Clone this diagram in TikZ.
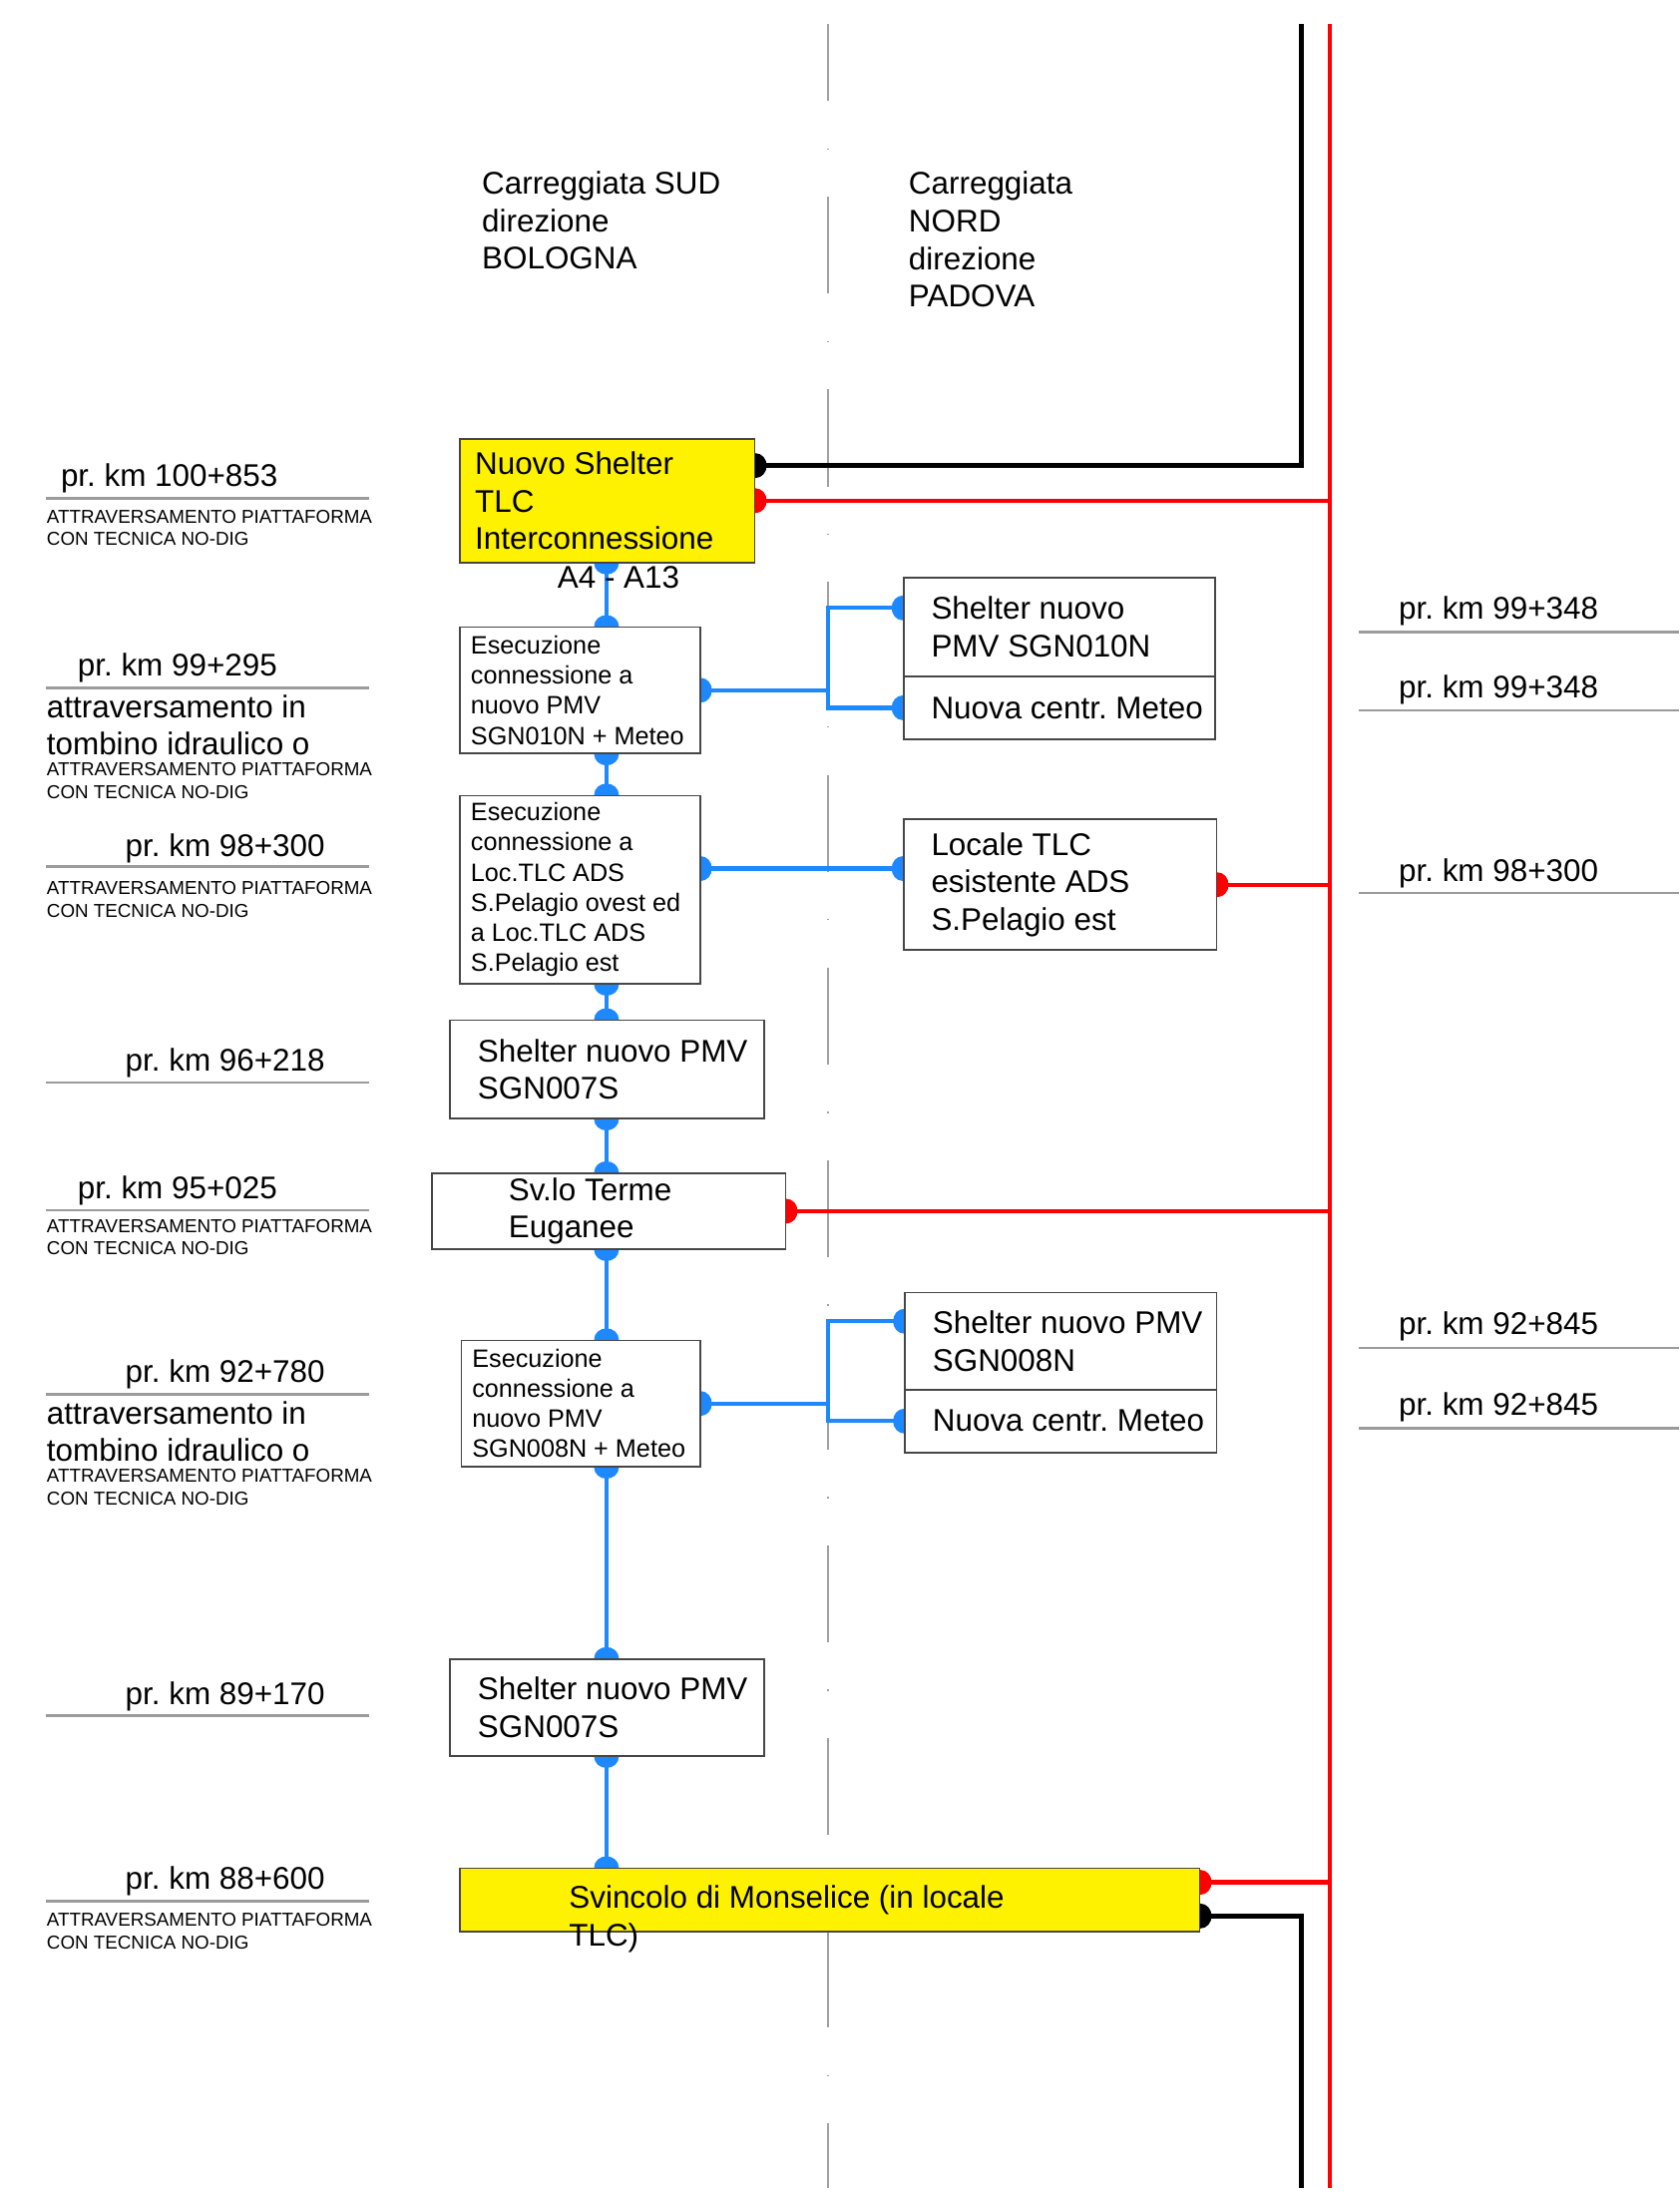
\documentclass[tikz,border=0pt]{standalone}
\usepackage{fontspec}
\setmainfont{Liberation Sans}
\frenchspacing
\usetikzlibrary{positioning,arrows.meta,backgrounds}
\definecolor{fibrablue}{RGB}{30,136,255}
\definecolor{boxgray}{RGB}{70,70,70}
\definecolor{pkgray}{RGB}{155,155,155}
\definecolor{assegray}{RGB}{160,160,160}

\tikzset{
	box/.style={draw=boxgray,line width=0.7pt,fill=white,anchor=north west,inner sep=0pt},
	ybox/.style={box,fill=yellow},
	txt/.style={inner sep=0pt,align=left,anchor=west},
	txtbig/.style={font=\fontsize{12.7}{15.3}\selectfont},
	txtmid/.style={font=\fontsize{10.2}{12.2}\selectfont},
	txtsmall/.style={font=\fontsize{7.6}{9.1}\selectfont},
	fibra/.style={draw=fibrablue,line width=1.7pt},
	rosso/.style={draw=red,line width=1.7pt},
	nero/.style={draw=black,line width=1.9pt},
	asse/.style={draw=assegray,line width=0.8pt,dash pattern=on 39.3pt off 19.1pt on 0.6pt off 19.1pt,dash phase=8pt},
	pk/.style={draw=pkgray,line width=1.1pt},
	dotstart/.style={arrows={Circle[length=9pt,width=10pt]-},shorten <=-4.5pt},
	dotend/.style={arrows={-Circle[length=9pt,width=10pt]},shorten >=-4.5pt},
	dotboth/.style={arrows={Circle[length=9pt,width=10pt]-Circle[length=9pt,width=10pt]},shorten <=-4.5pt,shorten >=-4.5pt}
}

\begin{document}
\begin{tikzpicture}[x=0.02cm,y=-0.02cm]
		\useasboundingbox (0,0) rectangle (1196.6,1567.6);
		% fixed points of the long lines
		\coordinate (axistop) at (590,17);
		\coordinate (axisbot) at (590,1558);
		\coordinate (redtop) at (947,17);
		\coordinate (redbot) at (947,1558);
		\coordinate (blacktop) at (927,17);
		\coordinate (blackbot) at (927,1558);
		\coordinate (spine) at (432,0);
		% carriageway headings
		\node[txt,txtbig] (sud) at (343,157) {Carreggiata SUD\\direzione\\BOLOGNA};
		\node[txt,txtbig] (nord) at (647,170.5) {Carreggiata\\NORD\\direzione\\PADOVA};
		% boxes on the south carriageway
		\node[ybox,minimum width=4.2cm,minimum height=1.76cm] (tlc) at (327,312) {};
		\node[txt,txtbig,right=0.22cm of tlc.west] (tlctxt) {Nuovo Shelter\\TLC\\Interconnessione};
		\node[txt,txtbig,anchor=center] (a4a13) at ([xshift=0.16cm,yshift=-0.2cm]tlc.south) {A4 - A13};
		\node[box,minimum width=3.42cm,minimum height=1.8cm] (exec1) at (327,446) {};
		\node[txt,txtmid,right=0.16cm of exec1.west] (exec1txt) {Esecuzione\\connessione a\\nuovo PMV\\SGN010N + Meteo};
		\node[box,minimum width=3.42cm,minimum height=2.68cm] (exec2) at (327,566) {};
		\node[txt,txtmid,right=0.16cm of exec2.west] (exec2txt) {Esecuzione\\connessione a\\Loc.TLC ADS\\S.Pelagio ovest ed\\a Loc.TLC ADS\\S.Pelagio est};
		\node[box,minimum width=4.48cm,minimum height=1.4cm] (pmv7a) at (320,726) {};
		\node[txt,txtbig,right=0.4cm of pmv7a.west] (pmv7atxt) {Shelter nuovo PMV\\SGN007S};
		\node[box,minimum width=5.04cm,minimum height=1.08cm] (terme) at (307,835) {};
		\node[txt,txtbig,right=1.1cm of terme.west] (termetxt) {Sv.lo Terme\\Euganee};
		\node[box,minimum width=3.4cm,minimum height=1.8cm] (exec3) at (328,954) {};
		\node[txt,txtmid,right=0.16cm of exec3.west] (exec3txt) {Esecuzione\\connessione a\\nuovo PMV\\SGN008N + Meteo};
		\node[box,minimum width=4.48cm,minimum height=1.38cm] (pmv7b) at (320,1181) {};
		\node[txt,txtbig,right=0.4cm of pmv7b.west] (pmv7btxt) {Shelter nuovo PMV\\SGN007S};
		\node[ybox,minimum width=10.54cm,minimum height=0.9cm] (monselice) at (327,1330) {};
		\node[txt,txtbig] (monselicetxt) at ([xshift=1.56cm,yshift=-0.27cm]monselice.west) {Svincolo di Monselice (in locale\\TLC)};
		% boxes on the north carriageway
		\node[box,minimum width=4.44cm,minimum height=1.4cm] (pmv10) at (643,411) {};
		\node[txt,txtbig,right=0.4cm of pmv10.west] (pmv10txt) {Shelter nuovo\\PMV SGN010N};
		\node[box,minimum width=4.44cm,minimum height=0.9cm] (meteo10) at (643,481) {};
		\node[txt,txtbig,right=0.4cm of meteo10.west] (meteo10txt) {Nuova centr. Meteo};
		\node[box,minimum width=4.46cm,minimum height=1.86cm] (locale) at (643,583) {};
		\node[txt,txtbig,right=0.4cm of locale.west] (localetxt) {Locale TLC\\esistente ADS\\S.Pelagio est};
		\node[box,minimum width=4.44cm,minimum height=1.38cm] (pmv8) at (644,920) {};
		\node[txt,txtbig,right=0.4cm of pmv8.west] (pmv8txt) {Shelter nuovo PMV\\SGN008N};
		\node[box,minimum width=4.44cm,minimum height=0.9cm] (meteo8) at (644,989) {};
		\node[txt,txtbig,right=0.4cm of meteo8.west] (meteo8txt) {Nuova centr. Meteo};
		% progressive km, left side
		\node[txt,txtbig] (km100853) at (43,341) {pr. km 100+853};
		\node[txt,txtsmall] (nota1) at (33,376) {ATTRAVERSAMENTO PIATTAFORMA\\CON TECNICA NO-DIG};
		\node[txt,txtbig] (km99295) at (55,476) {pr. km 99+295};
		\node[txt,txtbig] (tomb1) at (33,516.5) {attraversamento in\\tombino idraulico o};
		\node[txt,txtsmall] (nota2) at (33,556) {ATTRAVERSAMENTO PIATTAFORMA\\CON TECNICA NO-DIG};
		\node[txt,txtbig] (km98300s) at (89,604) {pr. km 98+300};
		\node[txt,txtsmall] (nota3) at (33,640.5) {ATTRAVERSAMENTO PIATTAFORMA\\CON TECNICA NO-DIG};
		\node[txt,txtbig] (km96218) at (89,757) {pr. km 96+218};
		\node[txt,txtbig] (km95025) at (55,848) {pr. km 95+025};
		\node[txt,txtsmall] (nota4) at (33,881) {ATTRAVERSAMENTO PIATTAFORMA\\CON TECNICA NO-DIG};
		\node[txt,txtbig] (km92780) at (89,979) {pr. km 92+780};
		\node[txt,txtbig] (tomb2) at (33,1019.5) {attraversamento in\\tombino idraulico o};
		\node[txt,txtsmall] (nota5) at (33,1059) {ATTRAVERSAMENTO PIATTAFORMA\\CON TECNICA NO-DIG};
		\node[txt,txtbig] (km89170) at (89,1208) {pr. km 89+170};
		\node[txt,txtbig] (km88600) at (89,1340) {pr. km 88+600};
		\node[txt,txtsmall] (nota6) at (33,1375.5) {ATTRAVERSAMENTO PIATTAFORMA\\CON TECNICA NO-DIG};
		\draw[pk] (33,355) -- (263,355);
		\draw[pk] (33,490) -- (263,490);
		\draw[pk] (33,617) -- (263,617);
		\draw[pk] (33,771) -- (263,771);
		\draw[pk] (33,862) -- (263,862);
		\draw[pk] (33,993) -- (263,993);
		\draw[pk] (33,1222) -- (263,1222);
		\draw[pk] (33,1354) -- (263,1354);
		% progressive km, right side
		\node[txt,txtbig] (km99348a) at (996,435) {pr. km 99+348};
		\node[txt,txtbig] (km99348b) at (996,491) {pr. km 99+348};
		\node[txt,txtbig] (km98300n) at (996,622) {pr. km 98+300};
		\node[txt,txtbig] (km92845a) at (996,945) {pr. km 92+845};
		\node[txt,txtbig] (km92845b) at (996,1002) {pr. km 92+845};
		\draw[pk] (968,450) -- (1196,450);
		\draw[pk] (968,506) -- (1196,506);
		\draw[pk] (968,636) -- (1196,636);
		\draw[pk] (968,960) -- (1196,960);
		\draw[pk] (968,1017) -- (1196,1017);
		% cables, behind the boxes
		\begin{pgfonlayer}{background}
			% axis between the carriageways
			\draw[asse] (axistop) -- (axisbot);
			% fibre backbone
			\draw[fibra,dotboth] (tlc.south -| spine) -- (exec1.north -| spine);
			\draw[fibra,dotboth] (exec1.south -| spine) -- (exec2.north -| spine);
			\draw[fibra,dotboth] (exec2.south -| spine) -- (pmv7a.north -| spine);
			\draw[fibra,dotboth] (pmv7a.south -| spine) -- (terme.north -| spine);
			\draw[fibra,dotboth] (terme.south -| spine) -- (exec3.north -| spine);
			\draw[fibra,dotboth] (exec3.south -| spine) -- (pmv7b.north -| spine);
			\draw[fibra,dotboth] (pmv7b.south -| spine) -- (monselice.north -| spine);
			% branches across the axis
			\draw[fibra,dotstart] (exec1.east) -- (exec1.east -| axistop);
			\draw[fibra,dotend] (exec1.east -| axistop) |- ([yshift=-0.44cm]pmv10.north west);
			\draw[fibra,dotend] (exec1.east -| axistop) |- (meteo10.west);
			\coordinate (exec2out) at ([yshift=0.3cm]exec2.east);
			\draw[fibra,dotboth] (exec2out) -- (exec2out -| locale.west);
			\draw[fibra,dotstart] (exec3.east) -- (exec3.east -| axistop);
			\draw[fibra,dotend] (exec3.east -| axistop) |- ([yshift=-0.42cm]pmv8.north west);
			\draw[fibra,dotend] (exec3.east -| axistop) |- (meteo8.west);
			% red line
			\draw[rosso] (redtop) -- (redbot);
			\draw[rosso,dotstart] (tlc.east) -- (tlc.east -| redtop);
			\draw[rosso,dotstart] (locale.east) -- (locale.east -| redtop);
			\draw[rosso,dotstart] (terme.east) -- (terme.east -| redtop);
			\coordinate (monred) at ([yshift=0.25cm]monselice.east);
			\draw[rosso,dotstart] (monred) -- (monred -| redtop);
			% black line
			\coordinate (tlcblack) at ([yshift=0.5cm]tlc.east);
			\draw[nero,dotstart] (tlcblack) -| (blacktop);
			\coordinate (monblack) at ([yshift=-0.23cm]monselice.east);
			\draw[nero,dotstart] (monblack) -| (blackbot);
		\end{pgfonlayer}
	\end{tikzpicture}
\end{document}
